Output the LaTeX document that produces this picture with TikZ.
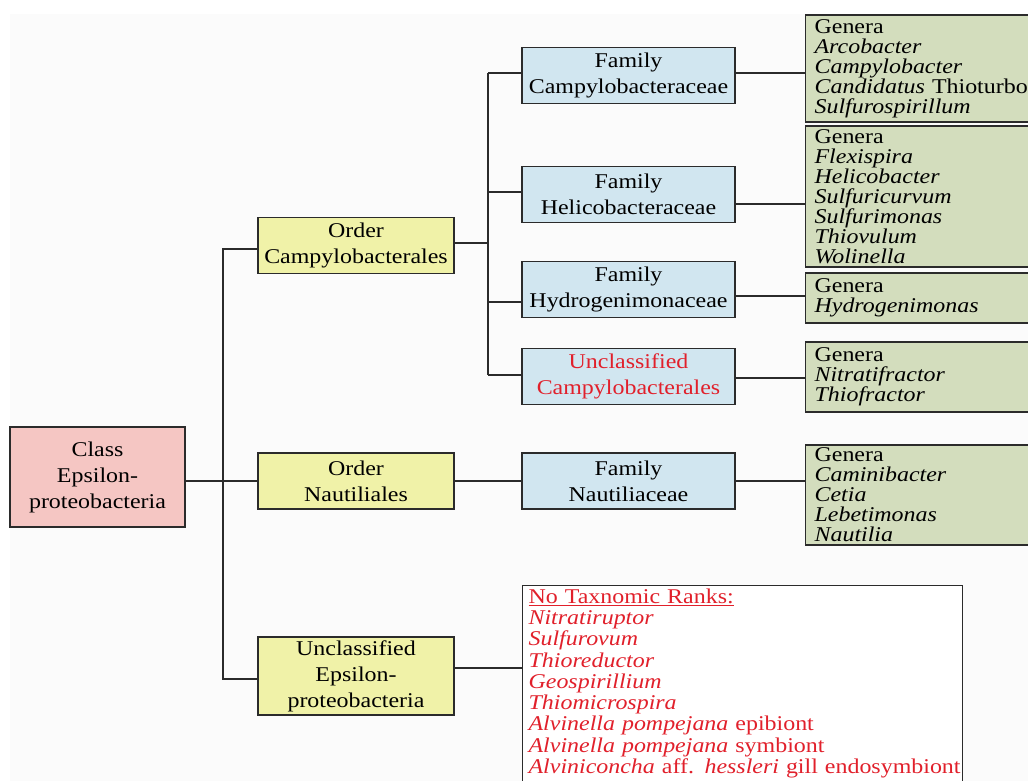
\documentclass[tikz,border=0pt]{standalone}
\usepackage{fontspec}
\setmainfont[FakeStretch=1.14]{Liberation Serif}
\usepackage{tikz}
\usetikzlibrary{
	positioning,
	calc
}
\definecolor{clspink}{HTML}{F5C6C3}
\definecolor{ordyellow}{HTML}{F0F2A8}
\definecolor{famblue}{HTML}{D1E6F0}
\definecolor{gengreen}{HTML}{D3DDBD}
\definecolor{taxred}{HTML}{E1202B}
\definecolor{edgegray}{HTML}{2B2B2B}
\definecolor{paper}{HTML}{FBFBFB}

\begin{document}
\begin{tikzpicture}[
		x=1pt, y=-1pt,
		box/.style={draw=edgegray, line width=1.2pt, inner sep=0pt, align=center,
			font=\fontsize{21}{26}\selectfont},
		classbox/.style={box, fill=clspink, minimum width=175pt, minimum height=100pt},
		orderbox/.style={box, fill=ordyellow, minimum width=196pt, minimum height=56pt},
		familybox/.style={box, fill=famblue, minimum width=213pt, minimum height=56pt},
		generabox/.style={draw=edgegray, line width=1.2pt, fill=gengreen, anchor=west,
			text width=215pt, inner xsep=9pt, inner ysep=0pt, align=left,
			font=\fontsize{21}{20}\selectfont},
		rankbox/.style={draw=edgegray, line width=1.2pt, fill=white, anchor=north west,
			text width=428pt, inner xsep=6pt, inner ysep=3pt, align=left,
			font=\fontsize{21}{21.3}\selectfont},
		link/.style={draw=edgegray, line width=1.2pt}
		]
		
		\useasboundingbox (0,0) rectangle (1028,781);
		\fill[paper] (10,14) rectangle (1028,781);
		
		% =========================
		% Class and orders
		% =========================
		\node[classbox] (cls) at (97.5,477) {Class\\Epsilon-\\proteobacteria};
		
		\node[orderbox] (ord1) at (356,245.5) {Order\\Campylobacterales};
		\node[orderbox] (ord2) at (356,481) {Order\\Nautiliales};
		\node[orderbox, minimum height=78pt] (ord3) at (356,676) {Unclassified\\Epsilon-\\proteobacteria};
		
		% =========================
		% Families
		% =========================
		\node[familybox] (fam1) at (628.5,75.5) {Family\\Campylobacteraceae};
		\node[familybox] (fam2) at (628.5,194.5) {Family\\Helicobacteraceae};
		\node[familybox] (fam3) at (628.5,289.5) {Family\\Hydrogenimonaceae};
		\node[familybox, text=taxred] (fam4) at (628.5,376.5) {Unclassified\\Campylobacterales};
		\node[familybox] (fam5) at (628.5,481) {Family\\Nautiliaceae};
		
		% =========================
		% Genera
		% =========================
		\node[generabox, minimum height=107pt] (gen1) at (805,68.5) {Genera\\
			\textit{Arcobacter}\\
			\textit{Campylobacter}\\
			\textit{Candidatus} Thioturbo\\
			\textit{Sulfurospirillum}};
		\node[generabox, minimum height=141pt] (gen2) at (805,196.5) {Genera\\
			\textit{Flexispira}\\
			\textit{Helicobacter}\\
			\textit{Sulfuricurvum}\\
			\textit{Sulfurimonas}\\
			\textit{Thiovulum}\\
			\textit{Wolinella}};
		\node[generabox, minimum height=50pt] (gen3) at (805,298) {Genera\\
			\textit{Hydrogenimonas}};
		\node[generabox, minimum height=70pt] (gen4) at (805,377) {Genera\\
			\textit{Nitratifractor}\\
			\textit{Thiofractor}};
		\node[generabox, minimum height=100pt] (gen5) at (805,495) {Genera\\
			\textit{Caminibacter}\\
			\textit{Cetia}\\
			\textit{Lebetimonas}\\
			\textit{Nautilia}};
		
		% =========================
		% No taxonomic ranks
		% =========================
		\node[rankbox, text=taxred] (norank) at (522,585) {\underline{No Taxnomic Ranks:}\\
			\textit{Nitratiruptor}\\
			\textit{Sulfurovum}\\
			\textit{Thioreductor}\\
			\textit{Geospirillium}\\
			\textit{Thiomicrospira}\\
			\textit{Alvinella pompejana} epibiont\\
			\textit{Alvinella pompejana} symbiont\\
			\mbox{\textit{Alviniconcha} aff. \textit{hessleri} gill endosymbiont}\rule[-12pt]{0pt}{12pt}};
		
		% =========================
		% Connectors
		% =========================
		\coordinate (tTop) at (223,249);
		\coordinate (tBot) at (223,679);
		\coordinate (fTop) at (488,73);
		\coordinate (fHel) at (488,192);
		\coordinate (fHyd) at (488,302);
		\coordinate (fBot) at (488,375);
		
		\draw[link] (ord2.west -| cls.east) -- (ord2.west);
		\draw[link] (ord1.west |- tTop) -- (tTop) -- (tBot) -- (ord3.west |- tBot);
		
		\draw[link] ([yshift=2.5pt]ord1.east) -- ([yshift=2.5pt]ord1.east -| fTop);
		\draw[link] (fTop) -- (fBot);
		\draw[link] (fTop) -- (fTop -| fam1.west);
		\draw[link] (fHel) -- (fHel -| fam2.west);
		\draw[link] (fHyd) -- (fHyd -| fam3.west);
		\draw[link] (fBot) -- (fBot -| fam4.west);
		\draw[link] (ord2.east) -- (fam5.west);
		\draw[link] ([yshift=8pt]ord3.east) -- ([yshift=8pt]ord3.east -| norank.west);
		
		\draw[link] ([yshift=2.5pt]fam1.east) -- ([yshift=2.5pt]fam1.east -| gen1.west);
		\draw[link] ([yshift=-9.5pt]fam2.east) -- ([yshift=-9.5pt]fam2.east -| gen2.west);
		\draw[link] ([yshift=-6.5pt]fam3.east) -- ([yshift=-6.5pt]fam3.east -| gen3.west);
		\draw[link] ([yshift=-1.5pt]fam4.east) -- ([yshift=-1.5pt]fam4.east -| gen4.west);
		\draw[link] (fam5.east) -- (fam5.east -| gen5.west);
		
	\end{tikzpicture}
\end{document}
